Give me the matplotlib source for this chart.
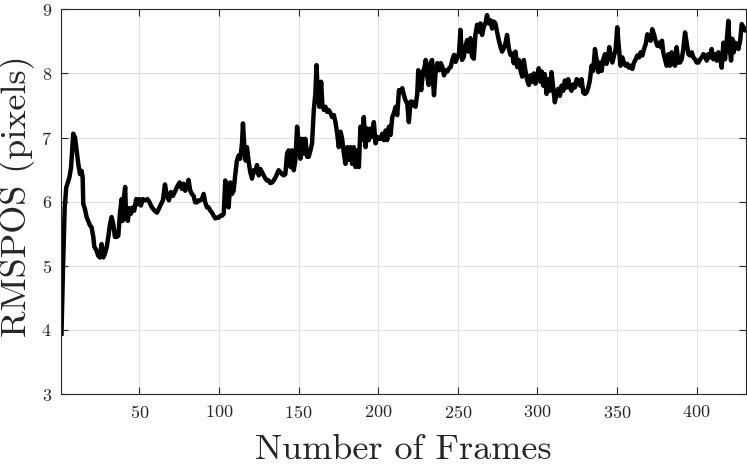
import numpy as np
import matplotlib
matplotlib.use('Agg')
import matplotlib.pyplot as plt

plt.rcParams['font.family'] = 'cmr10'
plt.rcParams['axes.formatter.use_mathtext'] = True

# frame index and RMSPOS value
frames = [1, 2, 3, 4, 5, 6, 7, 8.4, 9.5, 10.5, 11.5, 12.6, 13.6, 14.3, 14.7, 15.7, 16.8, 17.8, 18.9, 19.9,
          21, 21.6, 23, 24, 25.2, 26.2, 27.3, 28.3, 29.4, 30.4, 31.5, 32.5, 33.5, 34.6, 35.6, 36.7, 37.7,
          38.8, 39.4, 40.3, 41, 41.6, 42.7, 43.5, 44.6, 45.8, 46.7, 47.9, 48.8, 49.8, 50.9, 52, 53.6, 55,
          56.3, 57.8, 59.5, 61, 62.2, 63.5, 64.7, 66, 67.2, 68.5, 69.7, 71, 72.5, 74, 75.2,
          76.6, 77.7, 78.7, 79.8, 80.8, 81.9, 82.9, 84, 85, 86.1, 87.1, 88.2, 89.2, 90.3, 91.3, 92.4, 93.4,
          94.5, 95.5, 96.6, 97.6, 98.7, 99.7, 100.8, 101.8, 102.9, 103.9, 104.9, 106, 107, 108.1, 109.1,
          110.2, 111.2, 112.3, 113.3, 114.4, 115, 115.9, 116.7, 117.5, 118.6, 119.6, 120.7, 121.7, 122.8,
          123.8, 124.9, 125.9, 127, 128, 129.1, 130.1, 131.2, 132.2, 133.3, 134.3, 135.4, 136.4, 137.4,
          138.5, 139.5, 140.6, 141.6, 142.7, 143.7, 144.8, 145.8, 146.9, 147.9, 149, 150, 151.1,
          152.1, 153.2, 154.2, 155.3, 156.3, 157.4, 158.4, 159.5, 160.5, 161.2, 162, 163, 164.1, 164.9,
          165.8, 166.8, 167.9, 168.9, 170, 171, 172.1, 173.1, 174.2, 175.2, 176.3, 177.3, 178.4, 179.4,
          180.5, 181.5, 182.5, 183.6, 184.6, 185.7, 186.7, 187.8, 188.8, 189.9, 190.9, 192, 193, 194.1,
          195.1, 196.2, 197.2, 198.3, 199.3, 200.4, 201.4, 202.5, 203.5, 204.6, 205.6, 206.7, 207.7,
          208.8, 209.8, 210.9, 211.9, 213, 214, 215.1, 216.1, 217.1, 218.2, 219.2, 220.3, 221.3, 222.4,
          223.4, 224.5, 225.1, 226, 227, 228.1, 229.1, 229.8, 230.6, 231.7, 232.7, 233.8, 234.4, 235,
          236.1, 237.1, 238.2, 239.2, 240.3, 241.3, 242.4, 243.4, 244.4, 245.5, 246.5, 247.6, 248.6,
          249.7, 250.7, 251.6, 252.6, 253.7, 254.7, 255.8, 256.8, 257.9, 258.9, 260, 261, 262.1, 263.1,
          264.2, 265.2, 266.3, 267.3, 268.3, 269.4, 270.4, 271.5, 272.5, 273.6, 274.6, 275.7, 276.7,
          277.8, 278.8, 279.9, 280.9, 282, 283, 284.1, 285.1, 286.2, 287.2, 288.3, 289.3, 290.4, 291.4,
          292.5, 293.5, 294.6, 295.6, 296.7, 297.7, 298.7, 299.8, 300.8, 301.9, 302.7, 303.6, 304.6,
          305.7, 306.7, 307.8, 308.8, 309.9, 310.9, 312, 313, 314.1, 315.1, 316.2, 317.2, 318.3, 319.3,
          320.4, 321.4, 322.5, 323.5, 324.6, 325.6, 326.7, 327.7, 328.8, 329.8, 330.8, 331.9, 332.9, 334,
          335, 336.1, 337.1, 338.2, 339.2, 340.3, 341.3, 342.4, 343.4, 344.5, 345.1, 346, 347, 348.1,
          349.1, 350.1, 351.2, 352.2, 353.3, 354.3, 355.4, 356.4, 357.5, 358.5, 359.6, 360.6, 361.7,
          362.7, 363.8, 364.8, 365.9, 366.9, 368, 369, 370, 371.1, 372.1, 373.2, 374.2, 375.3, 376.3,
          377.4, 378.2, 379, 380.1, 381.1, 382.2, 383.2, 384.3, 385.3, 386.4, 387.4, 388.5, 389.5, 390.6,
          391.6, 392.7, 393.7, 394.8, 395.8, 396.9, 397.9, 399, 400, 401.1, 402.1, 403.2, 404.2, 405.2,
          406.3, 407.3, 408.4, 409.4, 410.5, 411.5, 412.6, 413.6, 414.7, 415.7, 416.8, 417.8, 418.9,
          419.9, 420.8, 421.6, 422.4, 423.3, 424.1, 425.2, 426.2, 427.3, 428.3, 429.4, 430.4, 431]
rmspos = [3.94, 5.0, 5.9, 6.22, 6.3, 6.38, 6.53, 7.06, 7.0, 6.8, 6.6, 6.43, 6.48, 6.38, 5.96, 5.89, 5.76, 5.7,
          5.63, 5.6, 5.45, 5.3, 5.24, 5.16, 5.13, 5.34, 5.13, 5.19, 5.29, 5.45, 5.65, 5.76, 5.65, 5.45, 5.45,
          5.47, 5.81, 6.04, 5.7, 6.07, 6.23, 5.76, 5.7, 5.9, 5.81, 5.91, 5.86, 6.04, 5.96, 6.04, 5.94, 6.04,
          6.02, 6.04, 5.99, 5.91, 5.86, 5.83, 5.89, 5.96, 6.02, 6.27, 6.09, 6.02, 6.15, 6.09, 6.17, 6.25,
          6.3,
          6.2, 6.28, 6.17, 6.23, 6.34, 6.17, 6.12, 6.09, 5.99, 5.99, 6.02, 6.02, 6.04, 6.12, 5.99, 5.91, 5.91,
          5.86, 5.83, 5.78, 5.74, 5.75, 5.75, 5.78, 5.78, 5.81, 6.33, 6.02, 5.91, 6.3, 6.12, 6.17, 6.43,
          6.64, 6.72, 6.67, 6.91, 7.22, 6.85, 6.64, 6.85, 6.62, 6.46, 6.36, 6.49, 6.46, 6.57, 6.41, 6.51,
          6.46, 6.41, 6.36, 6.33, 6.33, 6.29, 6.3, 6.33, 6.38, 6.43, 6.49, 6.46, 6.43, 6.41, 6.43, 6.75,
          6.8, 6.54, 6.8, 6.49, 6.64, 7.17, 6.91, 6.67,
          6.98, 6.75, 6.98, 6.7, 6.7, 6.8, 6.91, 7.43, 7.69, 8.13, 7.69, 7.48, 7.87, 7.5, 7.43, 7.48, 7.4,
          7.43, 7.38, 7.32, 7.35, 7.24, 7.06, 6.85, 7.09, 6.98, 6.75, 6.59, 6.85, 6.65, 6.85, 6.59, 6.85,
          6.54, 6.8, 6.54, 7.17, 6.96, 7.32, 6.85, 7.14, 6.96, 7.14, 7.01, 7.24, 6.91, 7.01, 6.98, 6.98,
          7.06, 6.96, 7.11, 6.96, 7.17, 7.04, 7.32, 7.38, 7.48, 7.35, 7.74, 7.71, 7.77, 7.66, 7.58, 7.53,
          7.24, 7.56, 7.56, 7.5, 7.48, 7.69, 8.05, 7.87, 7.74, 8.03, 8.1, 8.21, 7.97, 7.82, 8.16, 8.21,
          7.87, 7.66, 8.05, 8.16, 8.05, 8.16, 8.1, 7.97, 8.05, 8.03, 8.08, 8.1, 8.21, 8.29, 8.18, 8.26,
          8.31, 8.68, 8.21, 8.26, 8.42, 8.52, 8.34, 8.55, 8.26, 8.23, 8.6, 8.76, 8.65, 8.78, 8.6, 8.73,
          8.78, 8.91, 8.78, 8.83, 8.7, 8.81, 8.78, 8.65, 8.52, 8.42, 8.34, 8.39, 8.47, 8.6, 8.39, 8.29,
          8.31, 8.16, 8.34, 8.1, 8.21, 8.05, 7.95, 8.21, 8.03, 7.9, 7.82, 7.97, 7.87, 8.0, 7.84, 7.95,
          8.08, 7.87, 8.03, 7.81, 7.99, 7.68, 7.91, 7.73, 8.02, 7.78, 7.55, 7.68, 7.76, 7.65, 7.81, 7.73,
          7.89, 7.78, 7.91, 7.78, 7.73, 7.83, 7.78, 7.91, 7.89, 7.81, 7.91, 7.7, 7.68, 7.7, 7.78, 7.89,
          8.12, 8.04, 8.38, 8.22, 8.02, 8.17, 8.04, 8.22, 8.3, 8.15, 8.28, 8.41, 8.25, 8.17, 8.28, 8.38,
          8.72, 8.38, 8.12, 8.25, 8.17, 8.12, 8.15, 8.09, 8.12, 8.07, 8.17, 8.22, 8.28, 8.25, 8.33, 8.28,
          8.38, 8.46, 8.61, 8.53, 8.51, 8.69, 8.61, 8.51, 8.43, 8.48, 8.41, 8.51, 8.33, 8.22, 8.12, 8.3,
          8.12, 8.33, 8.15, 8.12, 8.41, 8.17, 8.17, 8.22, 8.38, 8.64, 8.48, 8.3, 8.28, 8.33, 8.25, 8.22,
          8.17, 8.17, 8.22, 8.25, 8.3, 8.28, 8.2, 8.3, 8.25, 8.38, 8.22, 8.3, 8.2, 8.33, 8.25, 8.09, 8.48,
          8.22, 8.51, 8.82, 8.38, 8.2, 8.54, 8.33, 8.48, 8.46, 8.38, 8.51, 8.77, 8.72, 8.67, 8.67]

xticks = [50, 100, 150, 200, 250, 300, 350, 400]
yticks = [3, 4, 5, 6, 7, 8, 9]

fig = plt.figure(figsize=(7.47, 4.66), dpi=100)
ax = fig.add_axes([0.0823, 0.1545, 0.9164, 0.8255])
ax.plot(frames, rmspos, color='k', lw=3.2, solid_joinstyle='round')
ax.set_xlim(1, 431)
ax.set_ylim(3, 9)
ax.set_xticks(xticks)
ax.set_yticks(yticks)
ax.grid(True, color='#e0e0e0', lw=0.8)
ax.set_axisbelow(True)
ax.tick_params(direction='in', top=True, right=True, length=5, width=0.8,
               colors='#262626', labelsize=13, pad=7)
for s in ax.spines.values():
    s.set_color('#262626')
    s.set_linewidth(0.8)
ax.set_xlabel('Number of Frames', fontsize=26, color='#262626')
ax.xaxis.set_label_coords(0.5, -0.105, transform=ax.transAxes)
ax.set_ylabel('RMSPOS (pixels)', fontsize=26, color='#262626')
ax.yaxis.set_label_coords(-0.038, 0.513, transform=ax.transAxes)
fig.savefig('out.png', dpi=100)
